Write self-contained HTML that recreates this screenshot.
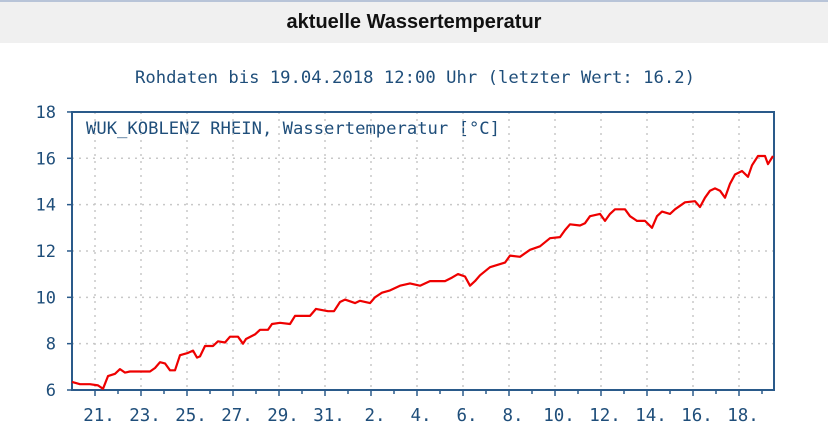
<!DOCTYPE html>
<html><head><meta charset="utf-8"><style>
html,body{margin:0;padding:0;background:#fff;width:828px;height:446px;overflow:hidden}
.hdr{position:absolute;left:0;top:0;width:828px;height:43px;background:#f0f0f0;border-top:2px solid #b8c4d8;box-sizing:border-box;font:bold 20px "Liberation Sans",sans-serif;text-align:center;line-height:40px;color:#111}
svg{position:absolute;left:0;top:0}
text{font-family:"DejaVu Sans Mono","Liberation Mono",monospace;fill:#1f4e7a}
</style></head><body>
<div class="hdr">aktuelle Wassertemperatur</div>
<svg width="828" height="446" id="s">
<text x="415" y="83" font-size="17.2" text-anchor="middle" textLength="560" lengthAdjust="spacingAndGlyphs">Rohdaten bis 19.04.2018 12:00 Uhr (letzter Wert: 16.2)</text>
<text x="86" y="134" font-size="17" textLength="414" lengthAdjust="spacingAndGlyphs">WUK_KOBLENZ RHEIN, Wassertemperatur [°C]</text>
<g id="g"></g>
</svg>
<script>
var g=document.getElementById('g'),L=72,R=774,T=112,B=390;
function y(v){return B-(v-6)*23.17}
var h='';
for(var v=6;v<=18;v+=2){var yy=y(v);
 if(v>6&&v<18)h+='<line x1="'+L+'" x2="'+R+'" y1="'+yy+'" y2="'+yy+'" stroke="#c8c8c8" stroke-width="1.5" stroke-dasharray="2,5"/>';
 h+='<line x1="'+(L-5)+'" x2="'+L+'" y1="'+yy+'" y2="'+yy+'" stroke="#2a5a8a" stroke-width="1.5"/>';
 h+='<text x="56" y="'+(yy+6)+'" font-size="17" text-anchor="end">'+v+'</text>';}
var labs=['21.','23.','25.','27.','29.','31.','2.','4.','6.','8.','10.','12.','14.','16.','18.'];
for(var i=0;i<15;i++){var x=95+i*46;
 h+='<line x1="'+x+'" x2="'+x+'" y1="'+T+'" y2="'+B+'" stroke="#c8c8c8" stroke-width="1.5" stroke-dasharray="2,5"/>';
 h+='<line x1="'+x+'" x2="'+x+'" y1="'+B+'" y2="'+(B+6)+'" stroke="#2a5a8a" stroke-width="1.5"/>';
 h+='<line x1="'+(x+23)+'" x2="'+(x+23)+'" y1="'+B+'" y2="'+(B+4)+'" stroke="#2a5a8a" stroke-width="1.5"/>';
 h+='<text x="'+(x+4)+'" y="421" font-size="17.5" text-anchor="middle">'+labs[i]+'</text>';}
h+='<rect x="'+L+'" y="'+T+'" width="'+(R-L)+'" height="'+(B-T)+'" fill="none" stroke="#2a5a8a" stroke-width="2"/>';
var d=[72,6.35,80,6.25,90,6.25,98,6.2,103,6.05,108,6.6,115,6.7,120,6.9,125,6.75,130,6.8,150,6.8,155,6.95,160,7.2,165,7.15,170,6.85,175,6.85,180,7.5,188,7.6,193,7.7,197,7.4,200,7.45,205,7.9,213,7.9,218,8.1,225,8.05,230,8.3,238,8.3,243,8.0,246,8.2,255,8.4,260,8.6,268,8.6,272,8.85,280,8.9,290,8.85,295,9.2,310,9.2,316,9.5,328,9.4,334,9.4,340,9.8,345,9.9,355,9.75,360,9.85,370,9.75,375,10.0,382,10.2,390,10.3,400,10.5,410,10.6,420,10.5,430,10.7,445,10.7,452,10.85,458,11.0,465,10.9,470,10.5,475,10.7,480,10.95,490,11.3,505,11.5,510,11.8,520,11.75,530,12.05,540,12.2,550,12.55,560,12.6,565,12.9,570,13.15,580,13.1,585,13.2,590,13.5,600,13.6,605,13.3,610,13.6,615,13.8,625,13.8,630,13.5,637,13.3,645,13.3,652,13.0,657,13.5,662,13.7,670,13.6,675,13.8,685,14.1,695,14.15,700,13.9,705,14.3,710,14.6,715,14.7,720,14.6,725,14.3,730,14.9,735,15.3,742,15.45,748,15.2,752,15.7,758,16.1,765,16.1,768,15.75,773,16.1];
var p='';for(var i=0;i<d.length;i+=2)p+=d[i]+','+y(d[i+1]).toFixed(1)+' ';
h+='<polyline points="'+p+'" fill="none" stroke="#ee0000" stroke-width="2.2" stroke-linejoin="round"/>';
g.innerHTML=h;
</script>
</body></html>
